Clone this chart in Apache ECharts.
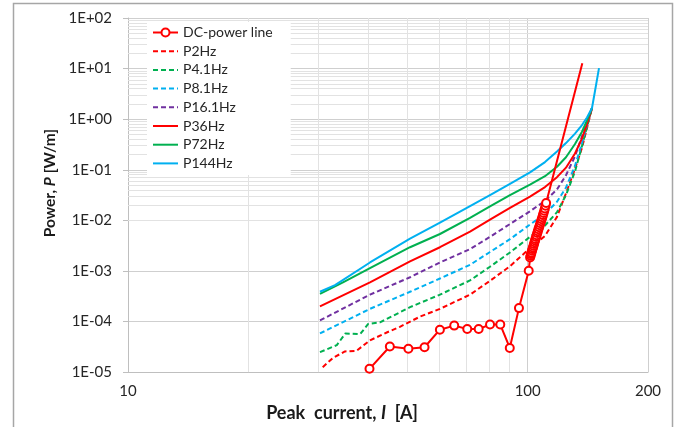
<!DOCTYPE html>
<html><head><meta charset="utf-8">
<script src="https://cdn.jsdelivr.net/npm/echarts@6/dist/echarts.min.js"></script>
<style>html,body{margin:0;padding:0;background:#fff}#c{width:686px;height:427px}</style>
</head><body><div id="c"></div><script>
// ---- data ----
const seriesNames = ['DC-power line','P2Hz','P4.1Hz','P8.1Hz','P16.1Hz','P36Hz','P72Hz','P144Hz'];
const xTickValues = [10, 100, 200];

const dcPower = [[40.2,1.16e-5],[45.2,3.2e-5],[50.3,2.9e-5],[55.2,3.1e-5],[60.3,6.9e-5],[65.5,8.3e-5],[70.6,7.1e-5],[75.4,7.1e-5],[80.5,8.7e-5],[85.4,8.7e-5],[90.2,3.0e-5],[95.1,1.84e-4],[100.6,1.01e-3],
  [101.4,1.85e-3],[101.7,2.0e-3],[101.9,2.15e-3],[102.2,2.3e-3],[102.5,2.5e-3],[102.8,2.7e-3],[103.1,2.9e-3],[103.4,3.15e-3],[103.7,3.4e-3],[104.0,3.7e-3],[104.3,4.0e-3],[104.6,4.3e-3],[105.0,4.7e-3],[105.3,5.1e-3],[105.7,5.6e-3],[106.0,6.1e-3],[106.4,6.7e-3],[106.8,7.3e-3],[107.2,8.0e-3],[107.6,8.8e-3],[108.0,9.6e-3],[108.4,1.05e-2],[108.8,1.15e-2],[109.2,1.27e-2],[109.6,1.4e-2],[110.0,1.55e-2],[110.4,1.72e-2],[110.8,1.95e-2],[111.2,2.2e-2]];
const dcPowerEnd = [137, 12.8];

const p2Hz = [[30.7,1.25e-5],[32.6,1.92e-5],[34.9,2.56e-5],[37.3,2.64e-5],[40.31,4.24e-5],[44.4,6.07e-5],[47.9,7.86e-5],[53.8,1.25e-4],[60.33,1.78e-4],[71.74,3.40e-4],[80.48,6.36e-4],[90.30,1.24e-3],[101.33,2.81e-3],[110.49,4.93e-3],[118.39,1.17e-2],[124.69,3.43e-2],[131.33,0.105],[136.74,0.272],[140.74,0.673],[144.85,1.66]];
const p41Hz = [[30.22,2.48e-5],[33.3,3.42e-5],[35.0,5.81e-5],[38.1,5.64e-5],[39.9,8.94e-5],[42.7,9.62e-5],[50.77,1.92e-4],[60.33,3.40e-4],[71.74,6.50e-4],[80.48,1.21e-3],[90.30,2.32e-3],[101.33,4.72e-3],[110.49,7.92e-3],[118.39,1.45e-2],[124.69,3.15e-2],[131.33,9.25e-2],[136.74,0.296],[140.74,0.702],[144.85,1.66]];
const p81Hz = [[30.22,5.81e-5],[40.31,1.78e-4],[50.77,3.87e-4],[60.33,7.09e-4],[71.74,1.32e-3],[80.48,2.37e-3],[90.30,4.24e-3],[101.33,8.27e-3],[110.49,1.33e-2],[118.39,2.33e-2],[124.69,4.45e-2],[131.33,0.12],[136.74,0.337],[140.74,0.765],[144.85,1.66]];
const p161Hz = [[30.22,1.05e-4],[40.31,3.40e-4],[50.77,7.49e-4],[60.33,1.47e-3],[71.74,2.70e-3],[80.48,4.72e-3],[90.30,8.45e-3],[101.33,1.51e-2],[110.49,2.43e-2],[118.39,4.08e-2],[124.69,7.79e-2],[131.33,0.185],[136.74,0.456],[140.74,0.871],[144.85,1.66]];
const p36Hz = [[30.22,2.0e-4],[40.31,5.96e-4],[50.77,1.54e-3],[60.33,2.94e-3],[71.74,5.99e-3],[80.48,1.03e-2],[90.30,1.76e-2],[101.33,2.95e-2],[110.49,4.54e-2],[118.39,7.14e-2],[124.69,0.11],[131.33,0.21],[136.74,0.418],[140.74,0.8],[144.85,1.66]];
const p72Hz = [[30.22,3.51e-4],[34.51,5.96e-4],[40.31,1.14e-3],[50.77,2.94e-3],[60.33,5.37e-3],[71.74,1.12e-2],[80.48,1.88e-2],[90.30,3.15e-2],[101.33,5.06e-2],[110.49,7.46e-2],[118.39,0.115],[124.69,0.177],[131.33,0.323],[136.74,0.566],[140.74,0.95],[144.85,1.66]];
const p144Hz = [[30.22,3.87e-4],[32.96,5.24e-4],[40.31,1.47e-3],[50.77,4.33e-3],[60.33,9.02e-3],[71.74,1.92e-2],[80.48,3.15e-2],[90.30,5.28e-2],[101.33,8.86e-2],[110.49,0.142],[118.39,0.229],[124.69,0.337],[131.33,0.519],[136.74,0.765],[140.74,1.08],[144.85,1.66],[147.38,3.61],[150.81,10.2]];

// minor gridline positions
const minorX = [20,30,40,50,60,70,80,90];
const minorY = [];
for (let e = -5; e <= 1; e++) for (let m = 2; m <= 9; m++) minorY.push(+(m * Math.pow(10, e)).toPrecision(3));

const RED = '#ff0000', GREEN = '#00b050', CYAN = '#00b0f0', PURPLE = '#7030a0';
const FONT = 'Lato';

function fmtE(v) {
  const e = Math.round(Math.log10(v));
  const a = Math.abs(e);
  return '1E' + (e < 0 ? '-' : '+') + (a < 10 ? '0' : '') + a;
}

function curve(name, data, color, dashed) {
  return {
    name, type: 'line', data, symbol: 'none', smooth: false,
    lineStyle: { color, width: 2, type: dashed ? [5, 3] : 'solid', join: 'round' },
    itemStyle: { color }, z: 3
  };
}

const dcData = dcPower.map(p => p.slice());
dcData.push({ value: dcPowerEnd, symbol: 'none' });

const legendData = seriesNames.map((n, i) => i === 0 ? { name: n } : { name: n, itemStyle: { opacity: 0 } });

const chart = echarts.init(document.getElementById('c'), null, { renderer: 'canvas' });
chart.setOption({
  animation: false,
  backgroundColor: '#fff',
  textStyle: { fontFamily: FONT },
  graphic: [{
    type: 'rect', silent: true, z: -10,
    shape: { x: 13.5, y: 3.5, width: 659, height: 440 },
    style: { fill: 'none', stroke: '#a6a6a6', lineWidth: 1.5 }
  }],
  grid: { left: 128, top: 18, right: 38, bottom: 35 },
  legend: {
    orient: 'vertical', left: 147, top: 22,
    padding: [3, 18, 4, 5],
    backgroundColor: '#fff',
    itemWidth: 25, itemHeight: 10, itemGap: 3.7,
    data: legendData,
    textStyle: { fontFamily: FONT, fontSize: 14, color: '#262626', lineHeight: 15 }
  },
  xAxis: {
    type: 'log', logBase: 10, min: 10, max: 200,
    axisLine: { show: true, lineStyle: { color: '#bfbfbf' } },
    axisTick: { show: false, customValues: xTickValues },
    axisLabel: { customValues: xTickValues, margin: 12, fontFamily: FONT, fontSize: 15, color: '#262626',
      formatter: v => String(Math.round(v)) },
    splitLine: { show: true, lineStyle: { color: '#cfcfcf', width: 1 } },
    name: 'Peak  current, {i|I}  [A]',
    nameLocation: 'middle', nameGap: 11,
    nameTextStyle: { fontFamily: FONT, fontSize: 18, fontWeight: 'bold', color: '#1a1a1a', padding: [0, 92, 0, 0],
      rich: { i: { fontFamily: FONT, fontSize: 18, fontWeight: 'bold', fontStyle: 'italic', color: '#1a1a1a' } } }
  },
  yAxis: {
    type: 'log', logBase: 10, min: 1e-5, max: 100, splitNumber: 7,
    axisLine: { show: true, lineStyle: { color: '#bfbfbf' } },
    axisTick: { show: true, inside: false, length: 5, lineStyle: { color: '#bfbfbf' } },
    axisLabel: { margin: 16, fontFamily: FONT, fontSize: 15, color: '#262626', formatter: fmtE },
    splitLine: { show: true, lineStyle: { color: '#cfcfcf', width: 1 } },
    name: 'Power, {i|P} [W/m]',
    nameLocation: 'middle', nameGap: 60,
    nameTextStyle: { fontFamily: FONT, fontSize: 15.5, fontWeight: 'bold', color: '#1a1a1a', padding: [0, 0, 0, 24],
      rich: { i: { fontFamily: FONT, fontSize: 15.5, fontWeight: 'bold', fontStyle: 'italic', color: '#1a1a1a' } } }
  },
  series: [
    {
      name: 'gridlines', type: 'line', data: [], silent: true, z: 1,
      markLine: {
        silent: true, symbol: ['none', 'none'], animation: false, z: 1,
        label: { show: false },
        lineStyle: { color: '#e2e2e2', width: 1, type: 'solid' },
        emphasis: { disabled: true },
        data: minorY.map(v => ({ yAxis: v })).concat(minorX.map(v => ({ xAxis: v })))
      }
    },
    curve('P2Hz', p2Hz, RED, true),
    curve('P4.1Hz', p41Hz, GREEN, true),
    curve('P8.1Hz', p81Hz, CYAN, true),
    curve('P16.1Hz', p161Hz, PURPLE, true),
    curve('P36Hz', p36Hz, RED, false),
    curve('P72Hz', p72Hz, GREEN, false),
    curve('P144Hz', p144Hz, CYAN, false),
    {
      name: 'DC-power line', type: 'line', data: dcData,
      symbol: 'emptyCircle', symbolSize: 8,
      lineStyle: { color: RED, width: 2 },
      itemStyle: { color: RED, borderWidth: 1.5 }, z: 5
    }
  ]
});
</script></body></html>
